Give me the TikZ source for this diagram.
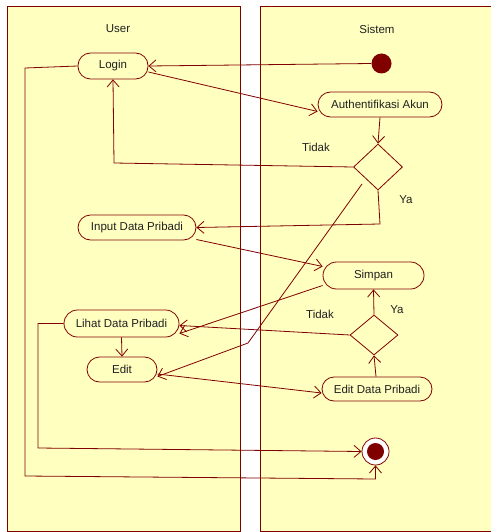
\documentclass[tikz,border=0pt]{standalone}
\usepackage{fontspec}
\setmainfont{Liberation Sans}
\usetikzlibrary{arrows.meta,shapes.geometric}
\definecolor{ln}{HTML}{800000}
\definecolor{bg}{HTML}{FFFFC0}
\definecolor{tx}{HTML}{202020}
\tikzset{
  x=1pt,y=-1pt,
  lane/.style={draw=ln,fill=bg,line width=0.9pt},
  act/.style={draw=ln,fill=bg,line width=0.8pt,rounded corners=12.5pt,inner sep=0pt,text=tx,font=\fontsize{11.5}{12}\selectfont},
  dec/.style={draw=ln,fill=bg,line width=0.8pt,diamond,inner sep=0pt},
  flow/.style={draw=ln,line width=0.8pt,-{Straight Barb[length=7pt,width=12pt,line width=0.8pt]}},
  plain/.style={draw=ln,line width=0.8pt},
  lbl/.style={text=tx,font=\fontsize{11.5}{12}\selectfont},
}
\begin{document}
\begin{tikzpicture}
\useasboundingbox (0,0) rectangle (490,532);
\fill[white] (0,0) rectangle (490,532);
\path[lane] (7,6) rectangle (240,531);
\path[lane] (260,6) -- (491,6) -- (491,531) -- (260,531) -- cycle;
\node[lbl] (userlbl) at (118,29) {User};
\node[lbl] (sislbl) at (377,29) {Sistem};

\node[act,minimum width=70pt,minimum height=26pt] (login) at (113,66) {Login};
\node[circle,fill=ln,minimum size=20pt,inner sep=0pt] (start) at (381.5,63.5) {};
\node[act,minimum width=124pt,minimum height=25pt] (auth) at (380,104.5) {Authentifikasi Akun};
\node[dec,minimum width=49pt,minimum height=46pt] (d1) at (378,167) {};
\node[lbl] (tidak1) at (316,147) {Tidak};
\node[lbl] (ya1) at (406,200) {Ya};
\node[act,minimum width=118pt,minimum height=25pt] (input) at (137,227.5) {Input Data Pribadi};
\node[act,minimum width=101pt,minimum height=27pt,rounded corners=13.5pt] (simpan) at (373.5,275.5) {Simpan};
\node[act,minimum width=115pt,minimum height=27pt,rounded corners=13.5pt] (lihat) at (121.5,323.5) {Lihat Data Pribadi};
\node[act,minimum width=70pt,minimum height=25pt] (edit) at (122,369.5) {Edit};
\node[dec,minimum width=48pt,minimum height=40pt] (d2) at (374,335) {};
\node[lbl] (ya2) at (397,310) {Ya};
\node[lbl] (tidak2) at (320,314) {Tidak};
\node[act,minimum width=110pt,minimum height=24pt,rounded corners=12pt] (edp) at (377,389) {Edit Data Pribadi};
\node[circle,draw=ln,fill=white,line width=0.8pt,minimum size=27pt,inner sep=0pt] (end) at (375.5,451.5) {};
\fill[ln] (end.center) circle (8.5pt);

\coordinate (dstart) at (362,184);
\coordinate (dbend) at (248,343);

\draw[flow] (start.west) -- (login.east);
\draw[flow] ([yshift=-6pt]login.east) -- ([yshift=-7pt]auth.west);
\draw[flow] (auth.south) -- (d1.north);
\draw[flow] (d1.west) -- (114,163) -- (login.south);
\draw[flow] (d1.south) -- (380,224) -- (input.east);
\draw[flow] (dstart) -- (dbend) -- ([yshift=-7pt]edit.east);
\draw[flow] ([yshift=-12pt]input.east) -- ([yshift=9pt]simpan.west);
\draw[flow] ([yshift=-10pt]simpan.west) -- ([yshift=-10pt]lihat.east);
\draw[flow] (d2.north) -- (simpan.south);
\draw[flow] (d2.west) -- ([yshift=-2pt]lihat.east);
\draw[flow] (lihat.south) -- (edit.north);
\draw[flow] ([xshift=-1pt]edp.north) -- (d2.south);
\draw[flow] ([yshift=-4.5pt]edit.east) -- ([yshift=-4pt]edp.west);
\draw[flow] (lihat.west) -- (38,323.5) -- (38,448) -- (end.west);
\draw[flow] (login.west) -- (25,68) -- (25,476) -- (375.5,479) -- (end.south);
\end{tikzpicture}
\end{document}
